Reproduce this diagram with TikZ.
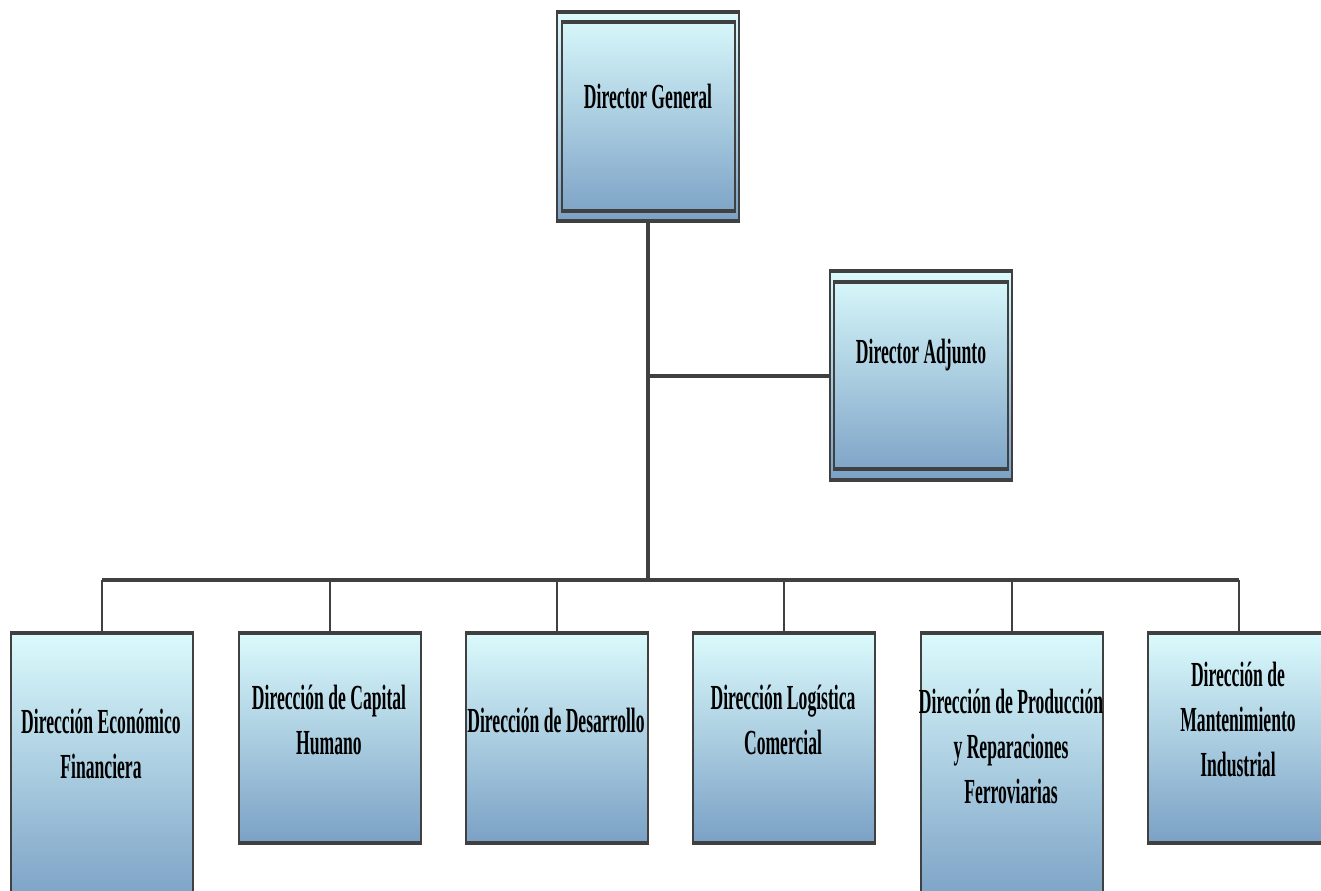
\documentclass[tikz,border=0pt]{standalone}
\usepackage{fontspec}
\newfontfamily\orgfont{Liberation Serif}[FakeStretch=0.5]
\usetikzlibrary{positioning}
\definecolor{boxtop}{RGB}{218,250,252}
\definecolor{boxbot}{RGB}{123,161,197}
\definecolor{linegray}{RGB}{64,64,64}
\tikzset{
  orgbox/.style={rectangle,anchor=north west,inner sep=0pt,minimum width=91pt,
    top color=boxtop,bottom color=boxbot,draw=linegray,line width=1pt},
  innerframe/.style={rectangle,inner sep=0pt,draw=linegray,line width=1pt},
  orgtext/.style={align=center,font=\orgfont\bfseries\fontsize{17.6}{22.5}\selectfont},
  edge/.style={draw=linegray,line width=2pt},
  trunk/.style={draw=linegray,line width=2pt},
  drop/.style={draw=linegray,line width=1pt}
}

\begin{document}
\begin{tikzpicture}[x=0.5pt,y=-0.5pt]
    \useasboundingbox (0,0) rectangle (1321,890);
    \clip (0,0) rectangle (1321,890);
    % top level
    \node[orgbox,minimum height=103.5pt] (dg) at (556,12) {};
    \node[innerframe,minimum width=86.5pt,minimum height=93.5pt] (dgi) at (dg.center) {};
    \node[orgbox,minimum height=103.5pt] (da) at (829,271) {};
    \node[innerframe,minimum width=87pt,minimum height=92.5pt] (dai) at (da.center) {};
    % direcciones
    \node[orgbox,minimum height=135pt] (def) at (10,633) {};
    \node[orgbox,minimum height=104pt] (dch) at (238,633) {};
    \node[orgbox,minimum height=104pt] (dd) at (465,633) {};
    \node[orgbox,minimum height=104pt] (dlc) at (692,633) {};
    \node[orgbox,minimum height=135pt] (dprf) at (920,633) {};
    \node[orgbox,minimum height=104pt] (dmi) at (1147,633) {};
    \foreach \n in {dg,dgi,da,dai,def,dch,dd,dlc,dprf,dmi} {
        \draw[edge] (\n.north west) -- (\n.north east);
        \draw[edge] (\n.south west) -- (\n.south east);
    }
    % texts
    \node[orgtext] (tdg) at (648,96) {Director General};
    \node[orgtext] (tda) at (921,355) {Director Adjunto};
    \node[orgtext] (tdef) at (101,744) {Dirección Económico\\Financiera};
    \node[orgtext] (tdch) at (329,720) {Dirección de Capital\\Humano};
    \node[orgtext] (tdd) at (556,720) {Dirección de Desarrollo};
    \node[orgtext] (tdlc) at (783,720) {Dirección Logística\\Comercial};
    \node[orgtext] (tdprf) at (1011,746) {Dirección de Producción\\y Reparaciones\\Ferroviarias};
    \node[orgtext] (tdmi) at (1238,719) {Dirección de\\Mantenimiento\\Industrial};
    % connectors
    \coordinate (hub) at (648,580);
    \draw[trunk] (dg.south) -- (hub);
    \draw[trunk] (dg.south |- da.west) -- (da.west);
    \draw[trunk] (def.north |- hub) -- (dmi.north |- hub);
    \foreach \n in {def,dch,dd,dlc,dprf,dmi} {
        \draw[drop] (\n.north |- hub) -- (\n.north);
    }
\end{tikzpicture}
\end{document}
